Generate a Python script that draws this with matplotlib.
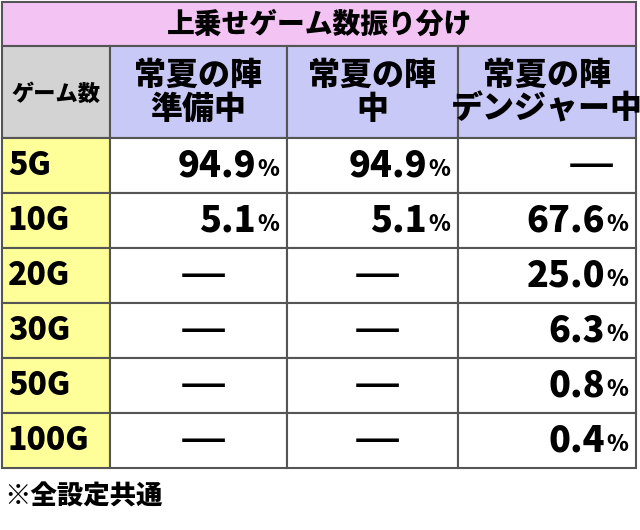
import matplotlib
matplotlib.use('Agg')
import matplotlib.pyplot as plt
from matplotlib.patches import Rectangle

plt.rcParams['font.family'] = ['Noto Sans CJK JP', 'DejaVu Sans']

title = '上乗せゲーム数振り分け'
corner = 'ゲーム数'
headers = ['常夏の陣\n準備中', '常夏の陣\n中', '常夏の陣\nデンジャー中']
rows = ['5G', '10G', '20G', '30G', '50G', '100G']
# None = 該当なし（ダッシュ）
junbi = [94.9, 5.1, None, None, None, None]
naka = [94.9, 5.1, None, None, None, None]
danger = [None, 67.6, 25.0, 6.3, 0.8, 0.4]
note = '※全設定共通'

fig = plt.figure(figsize=(6.4, 5.3), dpi=100)
ax = fig.add_axes([0, 0, 1, 1])
ax.set_xlim(0, 640)
ax.set_ylim(530, 0)
ax.axis('off')

cols = [2, 110, 287, 458, 636]
title_y = (2, 46)
head_y = (46, 138)
row_h = 55
edge = '#555555'

def cell(x0, x1, y0, y1, color):
    ax.add_patch(Rectangle((x0, y0), x1 - x0, y1 - y0, facecolor=color,
                           edgecolor=edge, linewidth=1.5))

# タイトル
cell(cols[0], cols[-1], *title_y, '#f3c4f3')
ax.text(320, 24, title, ha='center', va='center', fontsize=20, weight='heavy')

# ヘッダー
cell(cols[0], cols[1], *head_y, '#d3d3d3')
ax.text((cols[0] + cols[1]) / 2, 94, corner, ha='center', va='center',
        fontsize=16, weight='heavy')
for i, h in enumerate(headers):
    cell(cols[i + 1], cols[i + 2], *head_y, '#c9c9f7')
    ax.text((cols[i + 1] + cols[i + 2]) / 2, 92, h, ha='center', va='center',
            fontsize=23, weight='heavy', linespacing=1.0)

# 本体
series = [junbi, naka, danger]
for r, name in enumerate(rows):
    y0 = head_y[1] + r * row_h
    y1 = y0 + row_h
    yc = (y0 + y1) / 2
    cell(cols[0], cols[1], y0, y1, '#ffff99')
    ax.text(cols[0] + 6, yc, name, ha='left', va='center', fontsize=23, weight='heavy')
    for c, s in enumerate(series):
        x0, x1 = cols[c + 1], cols[c + 2]
        cell(x0, x1, y0, y1, 'white')
        v = s[r]
        if v is None:
            ax.text(x1 - 45 if c == 2 else (x0 + x1) / 2 + 5, yc, '—', ha='center',
                    va='center', fontsize=34, family='DejaVu Sans')
        else:
            ax.text(x1 - 31, yc, f'{v:.1f}', ha='right', va='center',
                    fontsize=26, weight='heavy')
            ax.text(x1 - 30, yc + 4, '%', ha='left', va='center',
                    fontsize=16, weight='heavy')

ax.text(4, 496, note, ha='left', va='center', fontsize=19, weight='heavy')

fig.savefig('out.png', dpi=100)
